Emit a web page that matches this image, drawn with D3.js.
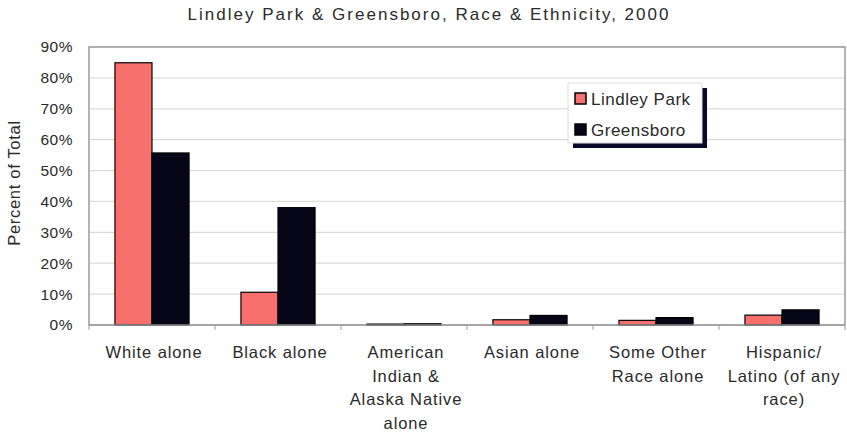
<!DOCTYPE html>
<html><head><meta charset="utf-8">
<script src="https://cdn.jsdelivr.net/npm/d3@7"></script>
<style>body{margin:0;background:#fff}svg{display:block}text{font-family:"Liberation Sans",Arial,sans-serif;fill:#2a2a2a}</style>
</head><body><svg id="c" width="847" height="433"></svg>
<script>
const categories = [["White alone"],["Black alone"],["American","Indian &","Alaska Native","alone"],["Asian alone"],["Some Other","Race alone"],["Hispanic/","Latino (of any","race)"]];
const seriesNames = ["Lindley Park","Greensboro"];
const lindleyPark = [84.9, 10.6, 0.3, 1.7, 1.5, 3.2];
const greensboro = [55.7, 38.0, 0.4, 3.1, 2.4, 4.9];
const yTicks = [0,10,20,30,40,50,60,70,80,90];
const colors = ["#f96f6d","#070618"];

const svg = d3.select("#c");
const L=89,R=845,T=47,B=325;
const x = d3.scaleBand().domain(d3.range(categories.length)).range([L,R]).paddingInner(0).paddingOuter(0);
const y = d3.scaleLinear().domain([0,90]).range([B,T]);
const x1 = d3.scaleBand().domain([0,1]).range([0,x.bandwidth()]).paddingInner(0).paddingOuter(0.7);

svg.append("text").attr("x",428).attr("y",20).attr("text-anchor","middle").style("font-size","17px").attr("textLength",481).text("Lindley Park & Greensboro, Race & Ethnicity, 2000");

// grid
svg.append("g").selectAll("line").data(yTicks.slice(1)).join("line")
 .attr("x1",L).attr("x2",R).attr("y1",d=>y(d)).attr("y2",d=>y(d)).attr("stroke","#dcdcd4").attr("stroke-width",1.2);
// border
svg.append("path").attr("d",`M${L},${B}V${T}H${R}V${B}`).attr("fill","none").attr("stroke","#9a9a9a").attr("stroke-width",1.5);

// y axis
const ya = svg.append("g").attr("transform",`translate(${L},0)`).call(d3.axisLeft(y).tickValues(yTicks).tickFormat(d=>d+"%").tickSize(0).tickPadding(16));
ya.select(".domain").remove();
ya.selectAll("text").style("font-size","15.5px").style("letter-spacing","0.5px").style("font-family","Liberation Sans, Arial, sans-serif").attr("fill","#2a2a2a");

svg.append("text").attr("transform","translate(20,183) rotate(-90)").attr("text-anchor","middle").style("font-size","16.5px").style("letter-spacing","0.7px").text("Percent of Total");

// bars
const vals = [lindleyPark, greensboro];
vals.forEach((arr,s)=>{
  svg.append("g").selectAll("rect").data(arr).join("rect")
   .attr("x",(d,i)=>x(i)+x1(s)).attr("width",x1.bandwidth())
   .attr("y",d=>y(d)).attr("height",d=>Math.max(1,B-y(d)))
   .attr("fill",colors[s]).attr("stroke","#050505").attr("stroke-width",1.2);
});

// x axis
const xa = svg.append("g").attr("transform",`translate(0,${B})`);
xa.append("line").attr("x1",L).attr("x2",R).attr("stroke","#888").attr("stroke-width",1.5);
xa.selectAll(".tk").data(d3.range(categories.length+1)).join("line").attr("class","tk")
 .attr("x1",i=>L+i*x.bandwidth()).attr("x2",i=>L+i*x.bandwidth()).attr("y1",0).attr("y2",5).attr("stroke","#999");
categories.forEach((lines,i)=>{
  const cx = x(i)+x.bandwidth()/2+2;
  const t = svg.append("text").attr("text-anchor","middle").style("font-size","16.5px").style("letter-spacing","0.9px").attr("x",cx).attr("y",358);
  lines.forEach((ln,k)=>t.append("tspan").attr("x",cx).attr("y",358+k*23.5).text(ln));
});

// legend
const lg = svg.append("g");
lg.append("rect").attr("x",573).attr("y",88).attr("width",134).attr("height",60).attr("fill","#0a0a26");
lg.append("rect").attr("x",568).attr("y",83).attr("width",134).attr("height",60).attr("fill","#fff").attr("stroke","#ddd");
seriesNames.forEach((n,i)=>{
  lg.append("rect").attr("x",575).attr("y",93+i*31).attr("width",11).attr("height",11).attr("fill",colors[i]).attr("stroke","#000").attr("stroke-width",1.5);
  lg.append("text").attr("x",591).attr("y",105+i*31).style("font-size","17px").style("letter-spacing","0.5px").text(n);
});
</script></body></html>
